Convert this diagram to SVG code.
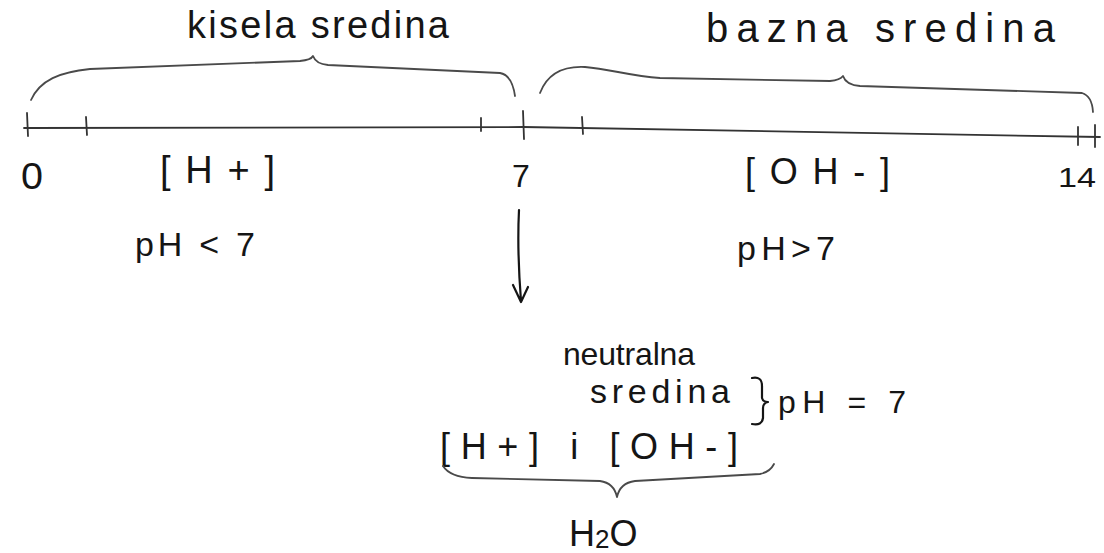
<svg xmlns="http://www.w3.org/2000/svg" width="1104" height="553" viewBox="0 0 1104 553">
  <style>
    .t { font-family: "Liberation Sans", "DejaVu Sans", sans-serif; fill: #151515; }
    .line { fill: none; stroke: #333333; stroke-width: 1.8; stroke-linecap: round; stroke-linejoin: round; }
    .brace { fill: none; stroke: #4a4a4a; stroke-width: 1.8; stroke-linecap: round; stroke-linejoin: round; }
    .ink { fill: none; stroke: #151515; stroke-width: 2.2; stroke-linecap: round; stroke-linejoin: round; }
  </style>
  <rect width="1104" height="553" fill="#ffffff"/>

  <!-- pH scale axis with ticks -->
  <g id="scale">
    <path class="line" d="M24 128 L523 127 L1100 137"/>
    <path class="line" d="M27 113 L28 136 M86 117 L87 135 M481 118 L481 131 M523 111 L524 139 M582 117 L583 134 M1078 127 L1078 145 M1095 125 L1095 147"/>
    <text class="t" x="21" y="189" font-size="36" textLength="22" lengthAdjust="spacingAndGlyphs">0</text>
    <text class="t" x="512" y="187" font-size="32">7</text>
    <text class="t" x="1058" y="187" font-size="28" textLength="38" lengthAdjust="spacingAndGlyphs">14</text>
  </g>

  <!-- acidic range -->
  <g id="acidic">
    <path class="brace" d="M31 100 C40 80 60 72 90 69 L300 61 Q311 60 313 56 Q316 64 328 65 L500 73 Q512 75 515 96"/>
    <text class="t" x="187" y="38" font-size="38" textLength="262" lengthAdjust="spacing">kisela sredina</text>
    <text class="t" x="160" y="183" font-size="38" textLength="115" lengthAdjust="spacing">[H+]</text>
    <text class="t" x="135" y="256" font-size="34" textLength="120" lengthAdjust="spacing">pH &lt; 7</text>
  </g>

  <!-- basic range -->
  <g id="basic">
    <path class="brace" d="M540 93 C548 72 565 66 585 67 C610 69 630 76 660 78 L830 81 Q840 80 843 76 Q846 85 860 86 L1082 93 Q1092 96 1093 112"/>
    <text class="t" x="706" y="42" font-size="40" textLength="349" lengthAdjust="spacing">bazna sredina</text>
    <text class="t" x="745" y="184" font-size="36" textLength="145" lengthAdjust="spacing">[OH-]</text>
    <text class="t" x="737" y="260" font-size="34" textLength="98" lengthAdjust="spacing">pH&gt;7</text>
  </g>

  <!-- pointer from 7 down to neutral -->
  <g id="connectors">
    <path class="ink" d="M519 210 Q517 250 521 301 M513 285 L521 302 L528 287"/>
  </g>

  <!-- neutral medium -->
  <g id="neutral">
    <text class="t" x="563" y="365" font-size="32" textLength="132" lengthAdjust="spacing">neutralna</text>
    <text class="t" x="590" y="403" font-size="34" textLength="140" lengthAdjust="spacing">sredina</text>
    <path class="ink" d="M752 378 Q762 376 762 386 L762 398 Q763 402 768 402 Q763 403 763 408 L763 418 Q762 426 752 424"/>
    <text class="t" x="778" y="413" font-size="32" textLength="128" lengthAdjust="spacing">pH = 7</text>
    <text class="t" x="440" y="459" font-size="36" textLength="298" lengthAdjust="spacing">[H+] i [OH-]</text>
    <path class="brace" d="M443 466 Q450 477 472 478 L600 481 Q614 483 617 497 Q620 483 635 481 L760 474 Q770 472 774 464"/>
    <text class="t" x="569" y="546" font-size="36">H<tspan font-size="26" dy="2">2</tspan><tspan dy="-2">O</tspan></text>
  </g>
</svg>
